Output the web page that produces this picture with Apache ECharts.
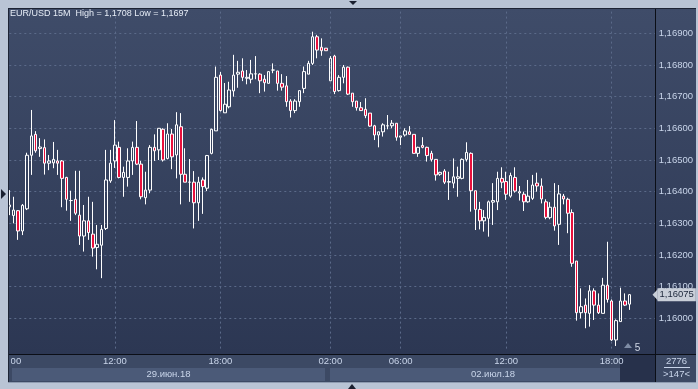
<!DOCTYPE html>
<html>
<head>
<meta charset="utf-8">
<script src="https://cdn.jsdelivr.net/npm/echarts@6/dist/echarts.min.js"></script>
<style>
html,body{margin:0;padding:0;background:#b9c4d5;}
#chart{width:698px;height:389px;}
</style>
</head>
<body>
<div id="chart"></div>
<script>
// ---- data (EUR/USD 15M) ----
const titleText = 'EUR/USD 15M  High = 1,1708 Low = 1,1697';
const open = [1.16352,1.16325,1.16340,1.16276,1.16346,1.16515,1.16581,1.16536,1.16539,1.16490,
1.16491,1.16497,1.16497,1.16445,1.16372,1.16376,1.16326,1.16260,1.16308,1.16266,
1.16224,1.16231,1.16284,1.16434,1.16497,1.16540,1.16445,1.16445,1.16497,1.16540,
1.16487,1.16381,1.16405,1.16540,1.16532,1.16597,1.16505,1.16582,1.16516,1.16605,
1.16455,1.16430,1.16430,1.16365,1.16437,1.16411,1.16521,1.16592,1.16768,1.16649,
1.16668,1.16718,1.16771,1.16781,1.16758,1.16755,1.16772,1.16771,1.16755,1.16742,
1.16784,1.16781,1.16742,1.16734,1.16686,1.16656,1.16684,1.16726,1.16771,1.16805,
1.16889,1.16856,1.16853,1.16750,1.16828,1.16719,1.16761,1.16793,1.16711,1.16686,
1.16665,1.16660,1.16648,1.16608,1.16579,1.16589,1.16608,1.16608,1.16616,1.16572,
1.16579,1.16589,1.16581,1.16521,1.16546,1.16540,1.16521,1.16502,1.16455,1.16465,
1.16430,1.16427,1.16442,1.16442,1.16502,1.16521,1.16403,1.16344,1.16308,1.16316,
1.16367,1.16368,1.16442,1.16432,1.16386,1.16445,1.16396,1.16392,1.16368,1.16379,
1.16427,1.16418,1.16368,1.16318,1.16351,1.16297,1.16386,1.16376,1.16334,1.16181,
1.16018,1.16042,1.16016,1.16087,1.16042,1.16016,1.16105,1.16055,1.15932,1.15990,
1.16055,1.16045];
const close = [1.16358,1.16342,1.16276,1.16357,1.16515,1.16576,1.16529,1.16541,1.16490,1.16497,
1.16502,1.16490,1.16442,1.16376,1.16372,1.16332,1.16260,1.16308,1.16271,1.16222,
1.16234,1.16281,1.16437,1.16490,1.16547,1.16445,1.16461,1.16497,1.16540,1.16487,
1.16384,1.16405,1.16540,1.16529,1.16600,1.16500,1.16582,1.16510,1.16611,1.16455,
1.16430,1.16430,1.16365,1.16430,1.16416,1.16514,1.16597,1.16761,1.16656,1.16676,
1.16721,1.16768,1.16777,1.16761,1.16761,1.16772,1.16772,1.16750,1.16744,1.16779,
1.16784,1.16742,1.16730,1.16684,1.16656,1.16686,1.16719,1.16779,1.16805,1.16889,
1.16847,1.16845,1.16845,1.16821,1.16716,1.16761,1.16793,1.16708,1.16684,1.16665,
1.16656,1.16640,1.16607,1.16579,1.16589,1.16611,1.16608,1.16616,1.16572,1.16576,
1.16592,1.16581,1.16521,1.16540,1.16540,1.16514,1.16502,1.16453,1.16461,1.16430,
1.16432,1.16447,1.16447,1.16502,1.16524,1.16403,1.16344,1.16308,1.16319,1.16368,
1.16372,1.16442,1.16430,1.16392,1.16451,1.16402,1.16400,1.16368,1.16386,1.16421,
1.16418,1.16377,1.16319,1.16351,1.16292,1.16393,1.16377,1.16332,1.16174,1.16018,
1.16037,1.16018,1.16087,1.16042,1.16018,1.16105,1.16060,1.15932,1.15993,1.16055,
1.16042,1.16075];
const low = [1.16326,1.16300,1.16248,1.16263,1.16342,1.16453,1.16523,1.16510,1.16454,1.16468,
1.16474,1.16453,1.16351,1.16340,1.16308,1.16326,1.16232,1.16211,1.16248,1.16195,
1.16155,1.16127,1.16279,1.16428,1.16475,1.16442,1.16384,1.16416,1.16453,1.16484,
1.16376,1.16360,1.16395,1.16497,1.16500,1.16495,1.16502,1.16471,1.16442,1.16360,
1.16430,1.16368,1.16284,1.16308,1.16330,1.16402,1.16518,1.16592,1.16653,1.16649,
1.16663,1.16700,1.16728,1.16749,1.16739,1.16742,1.16755,1.16711,1.16716,1.16742,
1.16774,1.16719,1.16719,1.16668,1.16634,1.16648,1.16668,1.16711,1.16771,1.16800,
1.16821,1.16829,1.16845,1.16750,1.16708,1.16716,1.16742,1.16705,1.16668,1.16656,
1.16656,1.16632,1.16605,1.16563,1.16540,1.16574,1.16597,1.16600,1.16561,1.16547,
1.16574,1.16581,1.16521,1.16510,1.16537,1.16495,1.16495,1.16435,1.16450,1.16424,
1.16374,1.16411,1.16384,1.16439,1.16495,1.16337,1.16279,1.16281,1.16274,1.16258,
1.16295,1.16342,1.16411,1.16374,1.16381,1.16397,1.16372,1.16339,1.16365,1.16374,
1.16400,1.16363,1.16313,1.16313,1.16277,1.16232,1.16360,1.16269,1.16163,1.15993,
1.16000,1.15969,1.15974,1.15995,1.16014,1.16016,1.16050,1.15929,1.15913,1.15990,
1.16039,1.16027];
const high = [1.16405,1.16384,1.16342,1.16361,1.16523,1.16658,1.16591,1.16569,1.16565,1.16516,
1.16557,1.16532,1.16500,1.16447,1.16403,1.16466,1.16466,1.16358,1.16384,1.16368,
1.16295,1.16295,1.16532,1.16532,1.16626,1.16558,1.16479,1.16537,1.16558,1.16623,
1.16497,1.16463,1.16547,1.16581,1.16600,1.16600,1.16616,1.16598,1.16651,1.16648,
1.16537,1.16503,1.16465,1.16447,1.16445,1.16516,1.16599,1.16795,1.16778,1.16743,
1.16747,1.16832,1.16813,1.16821,1.16784,1.16816,1.16828,1.16774,1.16768,1.16779,
1.16805,1.16781,1.16771,1.16765,1.16692,1.16692,1.16719,1.16795,1.16813,1.16905,
1.16895,1.16884,1.16853,1.16828,1.16832,1.16768,1.16800,1.16795,1.16711,1.16686,
1.16683,1.16695,1.16648,1.16611,1.16589,1.16616,1.16642,1.16626,1.16616,1.16576,
1.16600,1.16607,1.16581,1.16542,1.16572,1.16542,1.16529,1.16502,1.16463,1.16471,
1.16463,1.16505,1.16479,1.16505,1.16556,1.16524,1.16403,1.16368,1.16342,1.16372,
1.16427,1.16463,1.16477,1.16463,1.16460,1.16477,1.16418,1.16400,1.16437,1.16453,
1.16460,1.16442,1.16376,1.16367,1.16427,1.16421,1.16393,1.16381,1.16344,1.16181,
1.16095,1.16063,1.16105,1.16095,1.16079,1.16128,1.16242,1.16060,1.15997,1.16097,
1.16079,1.16077];
const slotCount = 148;            // 142 candles + empty shift area on the right
const xTickIndex  = [0, 24, 48, 73, 89, 113, 137];
const xTickLabels = ['06:00', '12:00', '18:00', '02:00', '06:00', '12:00', '18:00'];
const dayLabels   = ['29.июн.18', '02.июл.18'];
const yMin = 1.159, yMax = 1.170, yStep = 0.001;
const lastPrice = 1.16075;
const lastPriceLabel = '1,16075';
const barsInfo = ['2776', '>147<'];
const shiftLabel = '5';

// ---- build ----
const cats = [];
for (let i = 0; i < slotCount; i++) cats.push(String(i));
const candles = open.map((o, i) => [o, close[i], low[i], high[i]]);

const FONT = '"Liberation Sans", Arial, sans-serif';
const LABEL = '#c9d5ea';
const GRIDC = '#5b6a89';

const chart = echarts.init(document.getElementById('chart'), null, {renderer: 'canvas'});

const bgGraphics = [
  {type: 'rect', shape: {x: 8, y: 8, width: 688, height: 374}, style: {fill: '#3c4964'}, z: -30, silent: true},
  {type: 'rect', shape: {x: 8, y: 8, width: 688, height: 346},
   style: {fill: new echarts.graphic.LinearGradient(0, 0, 0, 1, [
     {offset: 0, color: '#3f4c69'}, {offset: 1, color: '#2c3753'}])}, z: -29, silent: true},
  {type: 'rect', shape: {x: 12, y: 368, width: 313, height: 13}, style: {fill: '#4b5a78'}, z: -28, silent: true},
  {type: 'rect', shape: {x: 330, y: 368, width: 325, height: 13}, style: {fill: '#4b5a78'}, z: -28, silent: true},
  {type: 'rect', shape: {x: 620, y: 355, width: 35, height: 27}, style: {fill: '#27314b'}, z: -27, silent: true}
];
const fgGraphics = [
  {type: 'line', shape: {x1: 8, y1: 354.5, x2: 696, y2: 354.5}, style: {stroke: '#0b0e16', lineWidth: 1}, z: 50, silent: true},
  {type: 'line', shape: {x1: 655.5, y1: 8, x2: 655.5, y2: 382}, style: {stroke: '#0b0e16', lineWidth: 1}, z: 50, silent: true},
  {type: 'rect', shape: {x: 8, y: 355, width: 3, height: 12}, style: {fill: '#3c4964'}, z: 99, silent: true},
  {type: 'rect', shape: {x: 0, y: 0, width: 698, height: 8}, style: {fill: '#b9c4d5'}, z: 100, silent: true},
  {type: 'rect', shape: {x: 0, y: 0, width: 8, height: 389}, style: {fill: '#b9c4d5'}, z: 100, silent: true},
  {type: 'rect', shape: {x: 696, y: 0, width: 2, height: 389}, style: {fill: '#b9c4d5'}, z: 100, silent: true},
  {type: 'rect', shape: {x: 0, y: 382, width: 698, height: 7}, style: {fill: '#b9c4d5'}, z: 100, silent: true},
  {type: 'line', shape: {x1: 8, y1: 8.5, x2: 696, y2: 8.5}, style: {stroke: '#1d2435', lineWidth: 1}, z: 101, silent: true},
  {type: 'line', shape: {x1: 8.5, y1: 8, x2: 8.5, y2: 382}, style: {stroke: '#1d2435', lineWidth: 1}, z: 101, silent: true},
  {type: 'line', shape: {x1: 8, y1: 382.5, x2: 696, y2: 382.5}, style: {stroke: '#8e9bb0', lineWidth: 1}, z: 101, silent: true},
  {type: 'polygon', shape: {points: [[349, 1], [357, 1], [353, 5]]}, style: {fill: '#1a2030'}, z: 102, silent: true},
  {type: 'polygon', shape: {points: [[348, 389], [356, 389], [352, 384]]}, style: {fill: '#1a2030'}, z: 102, silent: true},
  {type: 'polygon', shape: {points: [[1, 189], [1, 199], [6, 194]]}, style: {fill: '#1a2030'}, z: 102, silent: true},
  {type: 'text', x: 168.5, y: 374.5, style: {text: dayLabels[0], fill: LABEL, font: '9.5px ' + FONT, align: 'center', verticalAlign: 'middle'}, z: 60, silent: true},
  {type: 'text', x: 493, y: 374.5, style: {text: dayLabels[1], fill: LABEL, font: '9.5px ' + FONT, align: 'center', verticalAlign: 'middle'}, z: 60, silent: true},
  {type: 'text', x: 676.5, y: 361.5, style: {text: barsInfo[0], fill: LABEL, font: '9.5px ' + FONT, align: 'center', verticalAlign: 'middle'}, z: 60, silent: true},
  {type: 'line', shape: {x1: 664, y1: 367.5, x2: 690, y2: 367.5}, style: {stroke: LABEL, lineWidth: 1}, z: 60, silent: true},
  {type: 'text', x: 676.5, y: 374.5, style: {text: barsInfo[1], fill: LABEL, font: '9.5px ' + FONT, align: 'center', verticalAlign: 'middle'}, z: 60, silent: true},
  {type: 'polygon', shape: {points: [[624, 348], [632, 348], [628, 343]]}, style: {fill: '#7e8ca5'}, z: 60, silent: true},
  {type: 'text', x: 637.5, y: 348.5, style: {text: shiftLabel, fill: '#d0d8e6', font: '10px ' + FONT, align: 'center', verticalAlign: 'middle'}, z: 60, silent: true}
];

const option = {
  animation: false,
  backgroundColor: '#b9c4d5',
  title: {
    text: titleText, left: 10, top: 9, padding: 0,
    textStyle: {color: '#e6ecf6', fontSize: 9, fontWeight: 'normal', fontFamily: FONT}
  },
  grid: {left: 9.3, right: 42.3, top: 1.6, bottom: 38.9, containLabel: false, outerBoundsMode: 'none'},
  xAxis: {
    type: 'category', data: cats, boundaryGap: false,
    axisLine: {show: false}, axisTick: {show: false},
    axisLabel: {
      interval: (i) => xTickIndex.indexOf(i) >= 0,
      formatter: (v) => { const k = xTickIndex.indexOf(Number(v)); return k >= 0 ? xTickLabels[k] : ''; },
      color: LABEL, fontSize: 9.5, fontFamily: FONT, margin: 6
    },
    splitLine: {
      show: true,
      interval: (i) => i > 0 && xTickIndex.indexOf(i) >= 0,
      lineStyle: {color: GRIDC, type: [2, 3], width: 1}
    }
  },
  yAxis: {
    type: 'value', position: 'right', min: yMin, max: yMax, interval: yStep, scale: true,
    axisLine: {show: false}, axisTick: {show: false},
    axisLabel: {
      color: LABEL, fontSize: 9.5, fontFamily: FONT, margin: 3,
      showMinLabel: false, showMaxLabel: false,
      formatter: (v) => v.toFixed(5).replace('.', ',')
    },
    splitLine: {
      show: true, showMinLine: false, showMaxLine: false,
      lineStyle: {color: GRIDC, type: [2, 3], width: 1}
    }
  },
  series: [{
    type: 'candlestick',
    data: candles,
    barWidth: 3,
    itemStyle: {
      color: 'transparent', color0: '#e8103c',
      borderColor: '#ffffff', borderColor0: '#ffffff', borderColorDoji: '#ffffff',
      borderWidth: 1
    }
  }],
  graphic: bgGraphics.concat(fgGraphics)
};
chart.setOption(option);

// last-price tag placed through the library's y scale
const py = chart.convertToPixel({yAxisIndex: 0}, lastPrice);
chart.setOption({graphic: bgGraphics.concat(fgGraphics).concat([
  {type: 'polygon', shape: {points: [[652.5, py], [657.7, py - 5.5], [657.7, py + 5.5]]}, style: {fill: '#c9cfd9'}, z: 70, silent: true},
  {type: 'text', x: 657.5, y: py, z: 70, silent: true,
   style: {text: lastPriceLabel, fill: '#1b263a', font: '9.5px ' + FONT, align: 'left', verticalAlign: 'middle',
           backgroundColor: '#c9cfd9', padding: [2, 2, 1, 2]}}
])});
</script>
</body>
</html>
